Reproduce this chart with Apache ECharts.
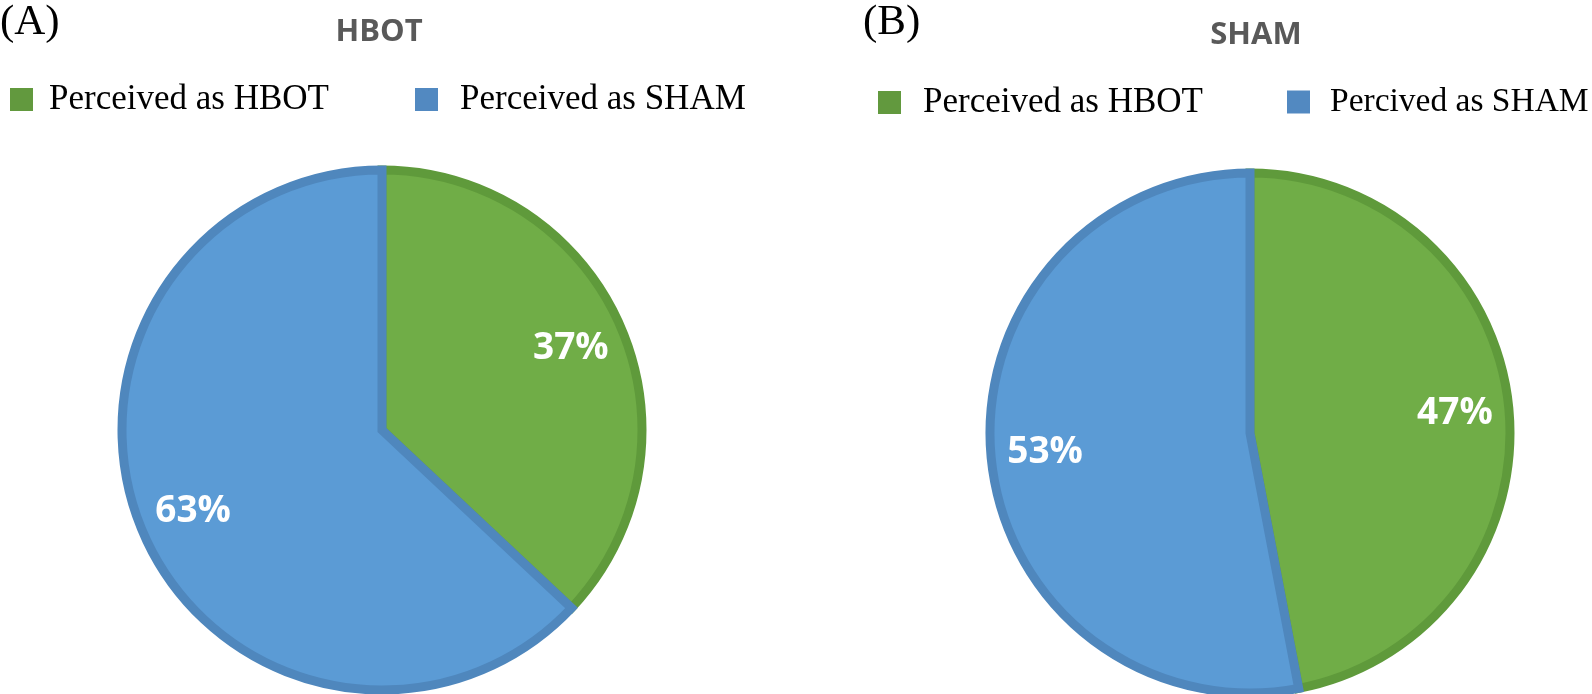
<!DOCTYPE html>
<html>
<head>
<meta charset="utf-8">
<script src="https://cdn.jsdelivr.net/npm/echarts@6/dist/echarts.min.js"></script>
<style>
html,body{margin:0;padding:0;background:#fff;}
#chart{width:1592px;height:694px;}
</style>
</head>
<body>
<div id="chart"></div>
<script>
const titleA = 'HBOT';
const titleB = 'SHAM';
const panelA = '(A)';
const panelB = '(B)';
const catsA = ['Perceived as HBOT', 'Perceived as SHAM'];
const catsB = ['Perceived as HBOT', 'Percived as SHAM'];
const valuesA = [37, 63];
const valuesB = [47, 53];

const fills = ['#70ad47', '#5b9bd5'];
const borders = ['#5f9a3b', '#4f87bd'];
const legendColors = ['#62993e', '#5289c1'];

const R = 260;
const centerA = [382, 430];
const centerB = [1250, 433];

function mainSeries(cats, vals, center) {
  return {
    type: 'pie', center: center, radius: [0, R],
    startAngle: 90, clockwise: true, silent: true,
    label: { show: false }, labelLine: { show: false },
    data: cats.map((c, i) => ({
      name: c, value: vals[i],
      itemStyle: { color: fills[i], borderColor: borders[i], borderWidth: 9, borderJoin: 'miter' }
    }))
  };
}
function labelSeries(cats, vals, center) {
  return {
    type: 'pie', center: center, radius: [R * 0.56, R],
    startAngle: 90, clockwise: true, silent: true, z: 5,
    itemStyle: { color: 'rgba(0,0,0,0)', borderWidth: 0 },
    label: {
      show: true, position: 'inside', formatter: '{c}%',
      color: '#ffffff', fontFamily: 'Open Sans', fontWeight: 'bold', fontSize: 37,
      padding: [9, 0, 0, 0]
    },
    labelLine: { show: false },
    data: cats.map((c, i) => ({ name: c + ' ', value: vals[i] }))
  };
}
function legendItem(name, color, left, top, gap, size) {
  return {
    left: left, top: top, orient: 'horizontal', selectedMode: false,
    itemWidth: 23, itemHeight: 23, icon: 'rect',
    textStyle: { fontFamily: 'Liberation Serif', fontSize: size, color: '#000', padding: [0, 0, 0, gap] },
    data: [{ name: name, itemStyle: { color: color, borderWidth: 0 } }]
  };
}

const chart = echarts.init(document.getElementById('chart'), null, { renderer: 'canvas' });
chart.setOption({
  backgroundColor: '#ffffff',
  animation: false,
  title: [
    { text: panelA, left: -5, top: -4, textStyle: { fontFamily: 'Liberation Serif', fontWeight: 'normal', fontSize: 43, color: '#000' } },
    { text: panelB, left: 858, top: -4, textStyle: { fontFamily: 'Liberation Serif', fontWeight: 'normal', fontSize: 43, color: '#000' } },
    { text: titleA, left: 374, top: 12, textAlign: 'center', textStyle: { fontFamily: 'Open Sans', fontWeight: 'bold', fontSize: 31, color: '#595959' } },
    { text: titleB, left: 1251, top: 15, textAlign: 'center', textStyle: { fontFamily: 'Open Sans', fontWeight: 'bold', fontSize: 31, color: '#595959' } }
  ],
  legend: [
    legendItem(catsA[0], legendColors[0], 5, 77, 11, 35),
    legendItem(catsA[1], legendColors[1], 410, 77, 17, 35),
    legendItem(catsB[0], legendColors[0], 873, 80, 17, 35),
    legendItem(catsB[1], legendColors[1], 1282, 80, 15, 33.5)
  ],
  series: [
    mainSeries(catsA, valuesA, centerA),
    mainSeries(catsB, valuesB, centerB),
    labelSeries(catsA, valuesA, centerA),
    labelSeries(catsB, valuesB, centerB)
  ]
});
</script>
</body>
</html>
